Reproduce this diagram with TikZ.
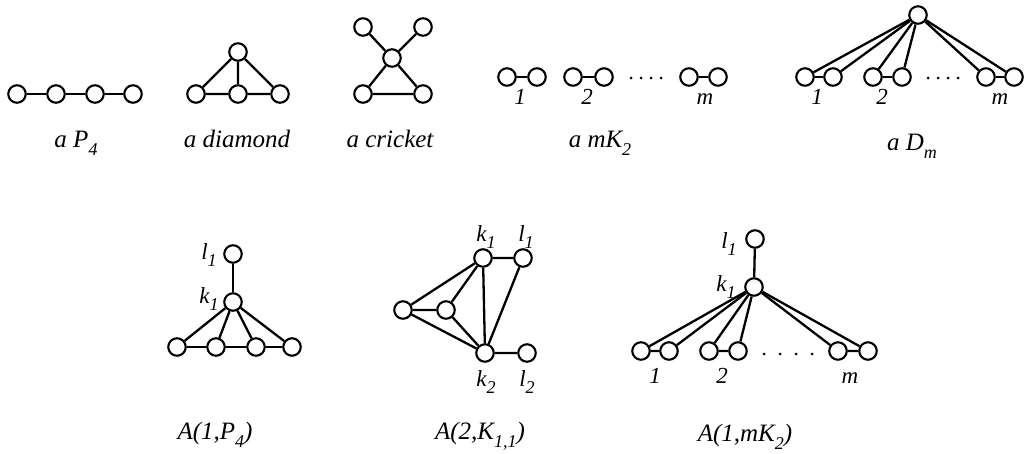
\documentclass[tikz,border=0pt]{standalone}
\usepackage{fontspec}
\setmainfont{Liberation Serif}
\newcommand{\mysub}[2]{#1\raisebox{-0.32em}{\fontsize{18}{18}\selectfont #2}}
\newcommand{\labsub}[2]{#1\raisebox{-0.32em}{\fontsize{18}{18}\selectfont #2}}
\begin{document}
\begin{tikzpicture}[x=1pt,y=-1pt,
  v/.style={circle,draw,fill=white,minimum size=17.5pt,inner sep=0pt,line width=2.1pt},
  e/.style={line width=2.3pt},
  captxt/.style={anchor=base,inner sep=0pt,font=\fontsize{25}{28}\selectfont\itshape},
  lab/.style={anchor=base,inner sep=0pt,font=\fontsize{23}{26}\selectfont\itshape},
  dotn/.style={circle,fill=black,inner sep=0pt,minimum size=3pt}]
\useasboundingbox (0,0) rectangle (1024,453);

% ---- P4
\node[v] (p1) at (17,94) {};
\node[v] (p2) at (56,94) {};
\node[v] (p3) at (95,94) {};
\node[v] (p4) at (133,94) {};
\draw[e] (p1)--(p2) (p2)--(p3) (p3)--(p4);
\node[captxt] (cp4) at (76,147) {a \mysub{P}{4}};

% ---- diamond
\node[v] (d1) at (196,94) {};
\node[v] (d2) at (238,94) {};
\node[v] (d3) at (280,94) {};
\node[v] (d4) at (238,52) {};
\draw[e] (d1)--(d2) (d2)--(d3) (d4)--(d1) (d4)--(d2) (d4)--(d3);
\node[captxt] (cdia) at (237,147) {a diamond};

% ---- cricket
\node[v] (c1) at (363,27) {};
\node[v] (c2) at (423,27) {};
\node[v] (c0) at (392,58) {};
\node[v] (c3) at (363,94) {};
\node[v] (c4) at (423,94) {};
\draw[e] (c1)--(c0) (c2)--(c0) (c0)--(c3) (c0)--(c4) (c3)--(c4);
\node[captxt] (ccr) at (390,147) {a cricket};

% ---- mK2
\node[v] (m1a) at (507,77) {};
\node[v] (m1b) at (537,77) {};
\node[v] (m2a) at (573,77) {};
\node[v] (m2b) at (604,77) {};
\node[v] (m3a) at (689,77) {};
\node[v] (m3b) at (718,77) {};
\draw[e] (m1a)--(m1b) (m2a)--(m2b) (m3a)--(m3b);
\foreach \i/\x in {1/631,2/641,3/651,4/661} \node[dotn] (md\i) at (\x,78) {};
\node[lab] (ml1) at (520,104) {1};
\node[lab] (ml2) at (587,104) {2};
\node[lab] (ml3) at (705,104) {m};
\node[captxt] (cmk) at (600,147) {a \mysub{mK}{2}};

% ---- Dm
\node[v] (t) at (918,15) {};
\node[v] (q1a) at (805,77) {};
\node[v] (q1b) at (833,77) {};
\node[v] (q2a) at (873,77) {};
\node[v] (q2b) at (902,77) {};
\node[v] (q3a) at (986,77) {};
\node[v] (q3b) at (1014,77) {};
\draw[e] (q1a)--(q1b) (q2a)--(q2b) (q3a)--(q3b);
\foreach \n in {q1a,q1b,q2a,q2b,q3a,q3b} \draw[e] (t)--(\n);
\foreach \i/\x in {1/928,2/938,3/948,4/958} \node[dotn] (qd\i) at (\x,78) {};
\node[lab] (ql1) at (817,104) {1};
\node[lab] (ql2) at (882,104) {2};
\node[lab] (ql3) at (1000,104) {m};
\node[captxt] (cdm) at (912,150) {a \mysub{D}{m}};

% ---- A(1,P4)
\node[v] (al) at (233,254) {};
\node[v] (ak) at (233,302) {};
\node[v] (ab1) at (177,347) {};
\node[v] (ab2) at (216,347) {};
\node[v] (ab3) at (256,347) {};
\node[v] (ab4) at (292,347) {};
\draw[e] (al)--(ak) (ab1)--(ab2) (ab2)--(ab3) (ab3)--(ab4);
\foreach \n in {ab1,ab2,ab3,ab4} \draw[e] (ak)--(\n);
\node[lab] (all) at (209,259) {\labsub{l}{1}};
\node[lab] (akl) at (209,303) {\labsub{k}{1}};
\node[captxt] (ca1) at (215,439) {A(1,\mysub{P}{4})};

% ---- A(2,K11)
\node[v] (bl) at (403,310) {};
\node[v] (bm) at (446,310) {};
\node[v] (bk1) at (483,258) {};
\node[v] (bl1) at (523,258) {};
\node[v] (bk2) at (485,353) {};
\node[v] (bl2) at (527,353) {};
\draw[e] (bl)--(bm) (bl)--(bk1) (bl)--(bk2) (bm)--(bk1) (bm)--(bk2)
  (bk1)--(bk2) (bk1)--(bl1) (bl1)--(bk2) (bk2)--(bl2);
\node[lab] (bk1l) at (486,241) {\labsub{k}{1}};
\node[lab] (bl1l) at (526,241) {\labsub{l}{1}};
\node[lab] (bk2l) at (486,386) {\labsub{k}{2}};
\node[lab] (bl2l) at (527,386) {\labsub{l}{2}};
\node[captxt] (ca2) at (480,439) {A(2,\mysub{K}{1,1})};

% ---- A(1,mK2)
\node[v] (cl) at (755,239) {};
\node[v] (ck) at (754,287) {};
\node[v] (r1a) at (641,351) {};
\node[v] (r1b) at (669,351) {};
\node[v] (r2a) at (709,351) {};
\node[v] (r2b) at (738,351) {};
\node[v] (r3a) at (838,351) {};
\node[v] (r3b) at (868,351) {};
\draw[e] (cl)--(ck) (r1a)--(r1b) (r2a)--(r2b) (r3a)--(r3b);
\foreach \n in {r1a,r1b,r2a,r2b,r3a,r3b} \draw[e] (ck)--(\n);
\foreach \i/\x in {1/764,2/780,3/796,4/812} \node[dotn] (rd\i) at (\x,354) {};
\node[lab] (rl1) at (655,383) {1};
\node[lab] (rl2) at (722,383) {2};
\node[lab] (rl3) at (850,383) {m};
\node[lab] (cll) at (729,248) {\labsub{l}{1}};
\node[lab] (ckl) at (726,291) {\labsub{k}{1}};
\node[captxt] (ca3) at (745,441) {A(1,\mysub{mK}{2})};
\end{tikzpicture}
\end{document}
